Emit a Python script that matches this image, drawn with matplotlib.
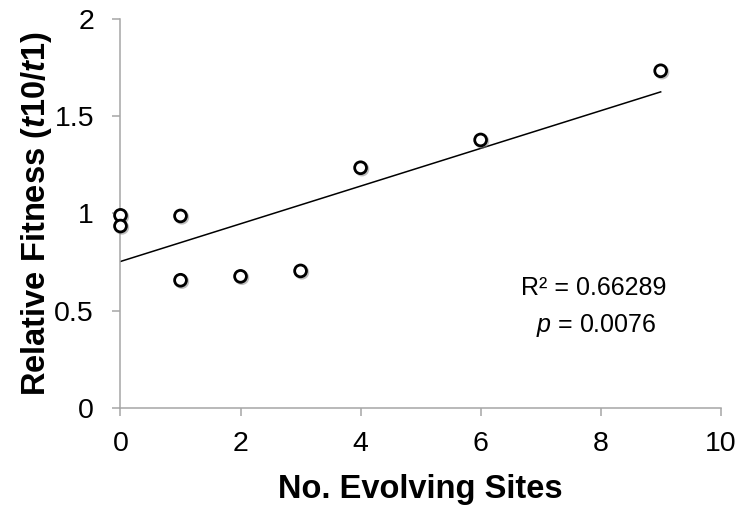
import numpy as np
import matplotlib
matplotlib.use('Agg')
import matplotlib.pyplot as plt
import matplotlib.patheffects as pe

plt.rcParams['font.family'] = ['Liberation Sans', 'DejaVu Sans']
plt.rcParams['mathtext.fontset'] = 'custom'
plt.rcParams['mathtext.rm'] = 'Liberation Sans'
plt.rcParams['mathtext.it'] = 'Liberation Sans:italic'
plt.rcParams['mathtext.bf'] = 'Liberation Sans:bold:italic'

# data
sites = [0, 0, 1, 1, 2, 3, 4, 6, 9]
fitness = [0.99, 0.935, 0.987, 0.656, 0.676, 0.704, 1.235, 1.378, 1.734]
xticks = [0, 2, 4, 6, 8, 10]
yticks = [0, 0.5, 1, 1.5, 2]
r2_text = 'R² = 0.66289'
p_text = r'$\it{p}$ = 0.0076'

fig = plt.figure(figsize=(7.41, 5.12), dpi=100)
ax = fig.add_axes([0.1626, 0.2037, 0.81, 0.759])

# linear trend line
slope, icept = np.polyfit(sites, fitness, 1)
xl = np.array([min(sites), max(sites)])
ax.plot(xl, slope * xl + icept, color='black', lw=1.1, zorder=2)

shadow = [pe.SimpleLineShadow(offset=(1, -1), shadow_color='gray', alpha=0.5), pe.Normal()]
ax.plot(sites, fitness, 'o', mfc='white', mec='black', ms=8.5, mew=2.0,
        zorder=3, path_effects=shadow, clip_on=False)

ax.set_xlim(0, 10)
ax.set_ylim(0, 2)
ax.set_xticks(xticks)
ax.set_yticks(yticks)
ax.set_xticklabels([str(t) for t in xticks])
ax.set_yticklabels(['0', '0.5', '1', '1.5', '2'])

for s in ['top', 'right']:
    ax.spines[s].set_visible(False)
for s in ['left', 'bottom']:
    ax.spines[s].set_color('#a6a6a6')
    ax.spines[s].set_linewidth(1.1)
ax.tick_params(axis='both', direction='out', length=6, width=1.1,
               color='#a6a6a6', labelsize=20.5, labelcolor='black')
ax.tick_params(axis='x', pad=11)
ax.tick_params(axis='y', pad=13)

ax.set_xlabel('No. Evolving Sites', fontsize=23.5, fontweight='bold', labelpad=12)
ax.set_ylabel(r'Relative Fitness ($\mathbf{t}$10/$\mathbf{t}$1)', fontsize=23.5,
              fontweight='bold', labelpad=0)

ax.text(7.89, 0.616, r2_text, fontsize=18, ha='center', va='center')
ax.text(7.92, 0.425, p_text, fontsize=18, ha='center', va='center')

fig.savefig('out.png', dpi=100)
